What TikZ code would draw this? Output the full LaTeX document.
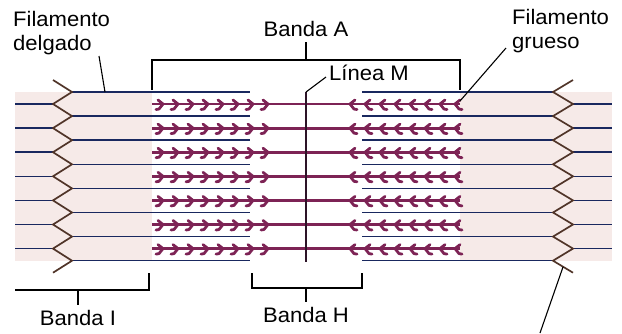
\documentclass[tikz,border=0pt]{standalone}
\usepackage{fontspec}
\setmainfont{Liberation Sans}[FakeStretch=1.05]
\usetikzlibrary{positioning}

\definecolor{actin}{RGB}{25,40,95}
\definecolor{myosin}{RGB}{125,35,85}
\definecolor{zdisc}{RGB}{80,52,40}
\definecolor{iband}{RGB}{246,234,232}
\definecolor{mline}{RGB}{45,20,40}

\begin{document}
\begin{tikzpicture}[
    x=1pt, y=-1pt,
    thin/.style={actin, line width=1.5pt},
    thick/.style={myosin, line width=2.8pt},
    head/.style={myosin, line width=2.8pt, line cap=round, line join=round},
    zline/.style={zdisc, line width=1.7pt, line join=miter},
    lead/.style={black, line width=1.1pt},
    lbl/.style={inner sep=0pt, font=\fontsize{21}{24}\selectfont}]

  \useasboundingbox (0,0) rectangle (622,333);

  % I-band shading on both sides
  \fill[iband] (15,92) rectangle (152,261);
  \fill[iband] (460,92) rectangle (612,261);

  % Thin filaments leaving the Z-discs towards the centre
  \foreach \i in {0,...,7} {
    \draw[thin] (72,{92+24.1*\i}) -- (250,{92+24.1*\i});
    \draw[thin] (553,{92+24.1*\i}) -- (362,{92+24.1*\i});
  }

  % Thin filaments of the neighbouring sarcomeres
  \foreach \i in {0,...,6} {
    \draw[thin] (53,{104+24.1*\i}) -- (15,{104+24.1*\i});
    \draw[thin] (573,{104+24.1*\i}) -- (612,{104+24.1*\i});
  }

  % Z-discs (zigzag)
  \draw[zline] (53,80) \foreach \i in {0,...,7} { -- (72,{92+24.1*\i}) -- (53,{104+24.1*\i}) };
  \draw[zline] (573,80) \foreach \i in {0,...,7} { -- (553,{92+24.1*\i}) -- (573,{104+24.1*\i}) };

  % Thick filaments with their heads
  \foreach \i in {0,...,6} {
    \draw[thick] (152,{104+24.1*\i}) -- (460,{104+24.1*\i});
    \foreach \k in {0,...,7} {
      \draw[head] ({163+15*\k},{104+24.1*\i}) ++(-5,-4) -- ++(5,4) -- ++(-4,5) -- ++(-3,0.5);
      \draw[head] ({350+15*\k},{104+24.1*\i}) ++(5,-4) -- ++(-5,4) -- ++(4,5) -- ++(3,0.5);
    }
  }

  % M line
  \coordinate (mtop) at (306,92);
  \coordinate (mbot) at (306,262);
  \draw[mline, line width=2.6pt] (mtop) -- (mbot);

  % Band A bracket
  \coordinate (atick) at (306,42);
  \draw[lead] (152,90) -- (152,60) -- (460,60) -- (460,90);
  \draw[lead] (306,60) -- (atick);
  \node (bandaA) [lbl, above=5pt of atick] {Banda A};

  % Band I bracket
  \coordinate (itick) at (78,305);
  \draw[lead] (15,290) -- (149,290) -- (149,273);
  \draw[lead] (78,290) -- (itick);
  \node (bandaI) [lbl, below=5pt of itick] {Banda I};

  % Band H bracket
  \coordinate (htick) at (306,302);
  \draw[lead] (252,273) -- (252,288) -- (362,288) -- (362,273);
  \draw[lead] (306,288) -- (htick);
  \node (bandaH) [lbl, below=5pt of htick] {Banda H};

  % Labels with leader lines
  \node (delgado) [lbl, anchor=north west, align=left] at (13,11) {Filamento\\delgado};
  \coordinate (dstart) at (99,56);
  \coordinate (dend) at (105,92);
  \draw[lead] (dstart) -- (dend);

  \node (lineaM) [lbl, anchor=west] at (329,73) {Línea M};
  \coordinate (mstart) at (326,77);
  \draw[lead] (mstart) -- (mtop);

  \node (grueso) [lbl, anchor=north west, align=left] at (512,9) {Filamento\\grueso};
  \coordinate (gstart) at (506,48);
  \coordinate (gend) at (460,101);
  \draw[lead] (gstart) -- (gend);

  \coordinate (zstart) at (540,333);
  \coordinate (zend) at (563,267);
  \draw[lead] (zstart) -- (zend);
\end{tikzpicture}
\end{document}
